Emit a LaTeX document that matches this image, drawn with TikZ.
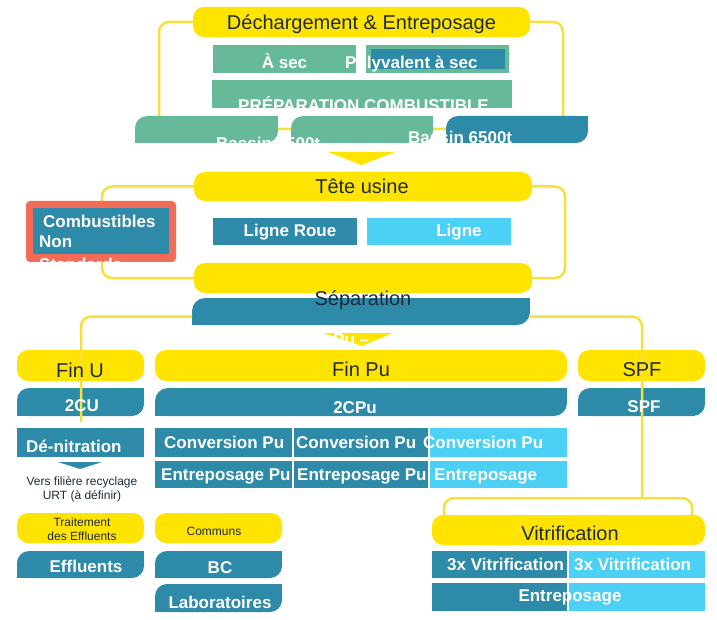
\documentclass[tikz,border=0pt]{standalone}
\usepackage{fontspec}
\setmainfont{Liberation Sans}
\usetikzlibrary{fit}

\definecolor{cy}{HTML}{FFE400}
\definecolor{ct}{HTML}{2D8AA8}
\definecolor{cc}{HTML}{4CD0F5}
\definecolor{cg}{HTML}{66BA99}
\definecolor{cr}{HTML}{F46C58}
\definecolor{cdark}{HTML}{1E2B3A}
\definecolor{cl}{HTML}{F7E03C}

\tikzset{
  box/.style={inner sep=0pt, outer sep=0pt},
  ybox/.style={box, fill=cy, rounded corners=11pt},
  tbox/.style={box, fill=ct},
  cbox/.style={box, fill=cc},
  gbox/.style={box, fill=cg},
  % block with rounded top-left and bottom-right corners only
  leaf/.style 2 args={box, fill=#1, rounded corners=#2,
    append after command={\pgfextra{
      \fill[#1, sharp corners] (\tikzlastnode.north east) rectangle ([xshift=-#2, yshift=-#2]\tikzlastnode.north east);
      \fill[#1, sharp corners] (\tikzlastnode.south west) rectangle ([xshift=#2, yshift=#2]\tikzlastnode.south west);}}},
  ttl/.style={inner sep=0pt, anchor=base, text=cdark, font=\fontsize{20}{24}\selectfont},
  wt/.style={inner sep=0pt, anchor=base, text=white, font=\bfseries\fontsize{17}{20}\selectfont},
  sm/.style={inner sep=0pt, anchor=base, text=cdark, font=\fontsize{12}{14}\selectfont},
  yline/.style={draw=cl, line width=2.5pt, rounded corners=10pt},
}

\begin{document}
\begin{tikzpicture}[x=1pt, y=-1pt]
\useasboundingbox (0,0) rectangle (717,620);

% ---------- Déchargement & Entreposage ----------
\coordinate (ctl) at (159,129);
\coordinate (ctr) at (563,129);
\node[ybox, fit={(193,7) (530,37)}] (dech) {};
\draw[yline] (dech.west) -| (ctl) -- (ctr) |- (dech.east);

\node[gbox, fit={(213,45) (356,73)}] (asec) {};
\node[gbox, fit={(366,45) (509,73)}] (poly) {};
\node[tbox, fit={(371,49) (505,69)}] (polyin) {};
\node[gbox, fit={(212,80) (512,108)}] (prep) {};

\node[leaf={cg}{12pt}, fit={(135,116) (278,143)}] (bas1) {};
\node[leaf={cg}{12pt}, fit={(291,116) (433,143)}] (bas2) {};
\node[leaf={ct}{12pt}, fit={(446,116) (588,143)}] (bas3) {};

\fill[cy] (328,152) -- (395,152) -- (361.5,165) -- cycle;

% ---------- Tête usine / Séparation ----------
\node[ybox, fit={(194,172) (532,201)}] (tete) {};
\node[ybox, fit={(194,263) (532,293)}] (sepy) {};
\coordinate (cml) at (102,230);
\coordinate (cmr) at (565,230);
\draw[yline] (tete.west) -| (cml) |- (sepy.west);
\draw[yline] (tete.east) -| (cmr) |- (sepy.east);

\node[tbox, fit={(213,218) (357,245)}] (lr) {};
\node[cbox, fit={(367,218) (511,245)}] (lg) {};

\node[box, fill=cr, rounded corners=4pt, fit={(26,201) (176,262)}] (cns) {};
\node[tbox, fit={(33,208) (169,254)}] (cnsin) {};

\node[leaf={ct}{13pt}, fit={(192,298) (530,325)}] (sept) {};
\fill[cy] (323,333) -- (393,333) -- (362,346) -- cycle;

% ---------- Fin U ----------
\node[ybox, fit={(17,350) (144,381)}] (finu) {};
\node[leaf={ct}{12pt}, fit={(17,388) (144,416)}] (cu) {};
\node[tbox, fit={(17,428) (144,457)}] (den) {};
\fill[ct] (58,462) -- (102,462) -- (80,469) -- cycle;
\node[ybox, fit={(17,513) (144,543)}] (trt) {};
\node[leaf={ct}{12pt}, fit={(17,551) (144,578)}] (eff) {};

% ---------- Fin Pu ----------
\node[ybox, fit={(155,350) (567,381)}] (finpu) {};
\node[leaf={ct}{13pt}, fit={(155,388) (567,416)}] (cpu) {};
\node[tbox, fit={(155,428) (292,457)}] (conv1) {};
\node[tbox, fit={(294,428) (428,457)}] (conv2) {};
\node[cbox, fit={(430,428) (567,457)}] (conv3) {};
\node[tbox, fit={(155,461) (292,488)}] (ent1) {};
\node[tbox, fit={(294,461) (428,488)}] (ent2) {};
\node[cbox, fit={(430,461) (567,488)}] (ent3) {};

% ---------- Communs ----------
\node[ybox, fit={(155,513) (282,543)}] (com) {};
\node[leaf={ct}{12pt}, fit={(155,551) (282,578)}] (bc) {};
\node[leaf={ct}{12pt}, fit={(155,584) (282,612)}] (lab) {};

% ---------- SPF ----------
\node[ybox, fit={(578,350) (705,381)}] (spfy) {};
\node[leaf={ct}{12pt}, fit={(578,388) (705,416)}] (spft) {};

% ---------- Vitrification ----------
\node[ybox, fit={(432,515) (705,545)}] (vit) {};
\node[tbox, fit={(432,551) (567,578)}] (vit1) {};
\node[cbox, fit={(569,551) (705,578)}] (vit2) {};
\node[tbox, fit={(432,583) (567,611)}] (ventl) {};
\node[cbox, fit={(569,583) (705,611)}] (ventr) {};

% ---------- connectors out of Séparation ----------
\coordinate (uend) at (81,422);
\coordinate (vj) at (642,498);
\coordinate (vbl) at (444,498);
\coordinate (vbr) at (692,498);
\draw[yline] ([yshift=-5pt]sept.west) -| (uend);
\draw[yline] ([yshift=-5pt]sept.east) -| (vj);
\draw[yline] ([xshift=12pt]vit.north west) -- (vbl) -- (vbr) -- ([xshift=-13pt]vit.north east);

% ---------- labels ----------
\node[ttl] (tdech) at (361.5,29.5) {Déchargement \& Entreposage};
\node[wt] (tasec) at (284.5,69) {À sec};
\node[wt, anchor=base west] (tpoly) at (345,69) {Polyvalent à sec};
\node[wt] (tprep) at (363.5,112) {PRÉPARATION COMBUSTIBLE};
\node[wt, anchor=base west] (tbas1) at (216,150) {Bassin 6500t};
\node[wt, anchor=base west] (tbas3) at (408,144) {Bassin 6500t};

\node[ttl] (ttete) at (362,194) {Tête usine};
\node[wt] (tlr) at (290,236.5) {Ligne Roue};
\node[wt] (tlg) at (459,236.5) {Ligne};
\begin{scope}
  \clip (cns.south west) rectangle (cns.north east);
  \node[wt, anchor=base west] (tcns1) at (43,228) {Combustibles};
  \node[wt, anchor=base west] (tcns2) at (39,248) {Non};
  \node[wt, anchor=base west] (tcns3) at (39,270) {Standards};
\end{scope}
\node[ttl] (tsep) at (363,305) {Séparation};
\node[wt, anchor=base west] (tsep2) at (333,345) {Pu –};

\node[ttl] (tfinu) at (80,377) {Fin U};
\node[wt] (tcu) at (82,411) {2CU};
\node[wt, anchor=base west] (tden) at (26,452) {Dé-nitration};
\node[sm] (turt1) at (82,485) {Vers filière recyclage};
\node[sm] (turt2) at (82,499.5) {URT (à définir)};
\node[sm] (ttrt1) at (82,526) {Traitement};
\node[sm] (ttrt2) at (82,540) {des Effluents};
\node[wt] (teff) at (86,572) {Effluents};

\node[ttl] (tfinpu) at (361,376) {Fin Pu};
\node[wt] (tcpu) at (355,413) {2CPu};
\node[wt, anchor=base west] (tconv1) at (164,448) {Conversion Pu};
\node[wt, anchor=base west] (tconv2) at (296,448) {Conversion Pu};
\node[wt, anchor=base west] (tconv3) at (423,448) {Conversion Pu};
\node[wt, anchor=base west] (tent1) at (161,480) {Entreposage Pu};
\node[wt, anchor=base west] (tent2) at (297,480) {Entreposage Pu};
\node[wt, anchor=base west] (tent3) at (434,480) {Entreposage};

\node[sm] (tcom) at (214,535) {Communs};
\node[wt] (tbc) at (220,573) {BC};
\node[wt] (tlab) at (220,608) {Laboratoires};

\node[ttl] (tspfy) at (642,376) {SPF};
\node[wt] (tspft) at (644,412) {SPF};

\node[ttl] (tvit) at (570,540) {Vitrification};
\node[wt, anchor=base west] (tvit1) at (447,570) {3x Vitrification};
\node[wt, anchor=base west] (tvit2) at (574,570) {3x Vitrification};
\node[wt] (tvent) at (570,601) {Entreposage};
\end{tikzpicture}
\end{document}
